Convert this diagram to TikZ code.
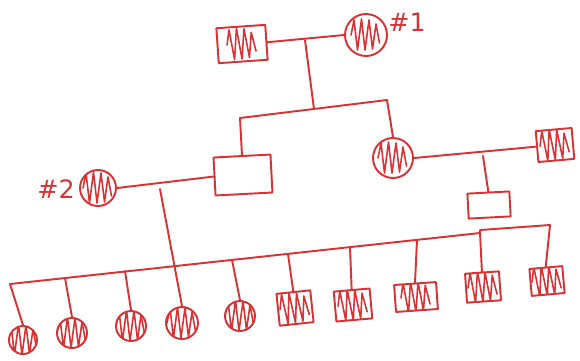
\documentclass[tikz,border=0pt]{standalone}
\usepackage{fontspec}
\setmainfont{DejaVu Sans}
\definecolor{penred}{RGB}{216,50,52}
\begin{document}
\begin{tikzpicture}[x=0.02cm,y=-0.02cm,
  pen/.style={draw=penred, line width=1.1pt, line cap=round, line join=round},
  fem/.style={circle, pen, inner sep=0pt},
  mal/.style={rectangle, pen, inner sep=0pt},
  hatch/.style={path picture={\draw[penred, line width=0.9pt, line join=round,
     shift={(path picture bounding box.center)}, scale=#1]
     (-0.3cm,0cm) -- (-0.24cm,0.3cm) -- (-0.17cm,-0.3cm) -- (-0.09cm,0.32cm) -- (-0.02cm,-0.3cm)
     -- (0.06cm,0.3cm) -- (0.13cm,-0.28cm) -- (0.2cm,0.22cm) -- (0.27cm,-0.16cm);}},
  hatch/.default=1,
  lbl/.style={text=penred, font=\Large}
]
\useasboundingbox (0,0) rectangle (580,360);
% generation I
\node[mal, hatch=1.3, minimum width=0.98cm, minimum height=0.7cm, rotate=4] (gf) at (242,44) {};
\node[fem, hatch=1.3, minimum size=0.84cm] (gm) at (366,35) {};
\node[lbl] (n1) at (407,22) {\#1};
% generation II
\node[mal, minimum width=1.14cm, minimum height=0.76cm, rotate=3] (f2) at (243,175) {};
\node[fem, hatch=1.3, minimum size=0.8cm] (m2) at (393,158) {};
\node[mal, hatch=1.1, minimum width=0.72cm, minimum height=0.62cm, rotate=5] (sp) at (555,145) {};
\node[fem, hatch=1.15, minimum size=0.72cm] (w2) at (98,188) {};
\node[lbl] (n2) at (56,189) {\#2};
\node[mal, minimum width=0.84cm, minimum height=0.5cm, rotate=3] (b4) at (489,205) {};
% generation III
\node[fem, hatch=0.95, minimum size=0.56cm] (c1) at (23,340) {};
\node[fem, hatch, minimum size=0.6cm] (c2) at (72,333) {};
\node[fem, hatch, minimum size=0.6cm] (c3) at (131,326) {};
\node[fem, hatch=1.05, minimum size=0.64cm] (c4) at (182,323) {};
\node[fem, hatch, minimum size=0.6cm] (c5) at (240,316) {};
\node[mal, hatch=1.05, minimum width=0.68cm, minimum height=0.64cm, rotate=6] (c6) at (295,308) {};
\node[mal, hatch=1.1, minimum width=0.72cm, minimum height=0.6cm, rotate=5] (c7) at (353,305) {};
\node[mal, hatch=1.25, minimum width=0.84cm, minimum height=0.54cm, rotate=4] (c8) at (416,297) {};
\node[mal, hatch=1.05, minimum width=0.68cm, minimum height=0.58cm, rotate=4] (c9) at (483,287) {};
\node[mal, hatch=1.0, minimum width=0.66cm, minimum height=0.54cm, rotate=5] (c10) at (547,281) {};
% couple I
\coordinate (m1) at (305,40);
\coordinate (s1) at (314,109);
\coordinate (sl) at (240,118);
\coordinate (sr) at (387,100);
\draw[pen] (gf.east) -- (gm.west);
\draw[pen] (m1) -- (s1);
\draw[pen] (sl) -- (sr);
\draw[pen] (sl) -- (f2.north);
\draw[pen] (sr) -- (m2.north);
% couple II right
\coordinate (m3) at (483,156);
\draw[pen] (m2.east) -- (sp.west);
\draw[pen] (m3) -- (b4.north);
% couple II left
\coordinate (m4) at (160,189);
\draw[pen] (w2.east) -- (f2.west);
\draw[pen] (m4) -- (c4.north);
% sibship III
\coordinate (b0) at (10,284);
\coordinate (b9) at (480,233);
\coordinate (b9t) at (480,230);
\coordinate (b10) at (550,225);
\coordinate (d2) at (65,278);
\coordinate (d3) at (125,271);
\coordinate (d5) at (232,260);
\coordinate (d6) at (288,254);
\coordinate (d7) at (350,247);
\coordinate (d8) at (417,240);
\draw[pen] (b0) -- (b9) -- (b9t) -- (b10);
\draw[pen] (b0) -- (c1.north);
\draw[pen] (d2) -- (c2.north);
\draw[pen] (d3) -- (c3.north);
\draw[pen] (d5) -- (c5.north);
\draw[pen] (d6) -- (c6.north);
\draw[pen] (d7) -- (c7.north);
\draw[pen] (d8) -- (c8.north);
\draw[pen] (b9) -- (c9.north);
\draw[pen] (b10) -- (c10.north);
\end{tikzpicture}
\end{document}
